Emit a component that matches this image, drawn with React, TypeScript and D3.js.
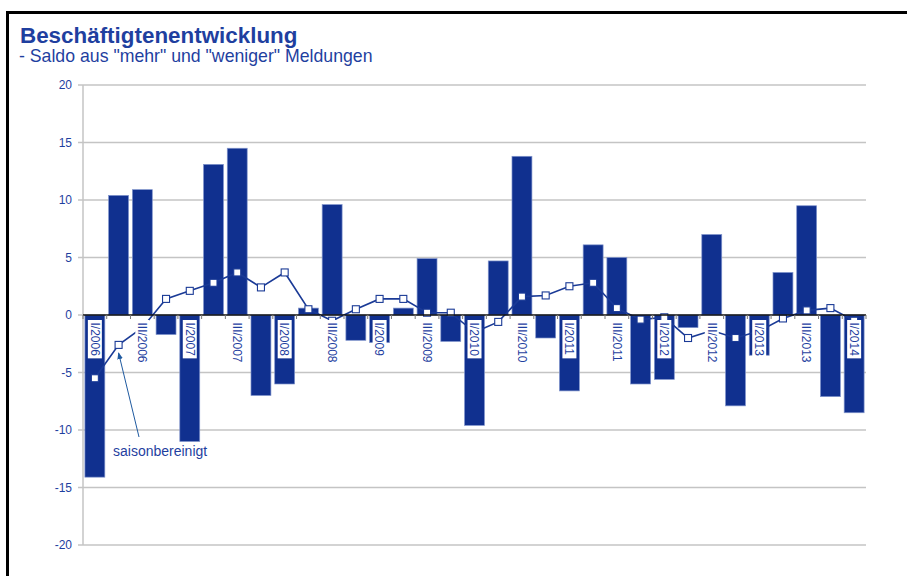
import React from "react";
import * as d3 from "d3";

const categories = [
  "I/2006", "II/2006", "III/2006", "IV/2006",
  "I/2007", "II/2007", "III/2007", "IV/2007",
  "I/2008", "II/2008", "III/2008", "IV/2008",
  "I/2009", "II/2009", "III/2009", "IV/2009",
  "I/2010", "II/2010", "III/2010", "IV/2010",
  "I/2011", "II/2011", "III/2011", "IV/2011",
  "I/2012", "II/2012", "III/2012", "IV/2012",
  "I/2013", "II/2013", "III/2013", "IV/2013",
  "I/2014",
];

const saldo = [
  -14.1, 10.4, 10.9, -1.7,
  -11.0, 13.1, 14.5, -7.0,
  -6.0, 0.6, 9.6, -2.2,
  -2.4, 0.6, 4.9, -2.3,
  -9.6, 4.7, 13.8, -2.0,
  -6.6, 6.1, 5.0, -6.0,
  -5.6, -1.1, 7.0, -7.9,
  -3.5, 3.7, 9.5, -7.1,
  -8.5,
];

const saisonbereinigt = [
  -5.5, -2.6, -1.1, 1.4,
  2.1, 2.8, 3.7, 2.4,
  3.7, 0.5, -0.5, 0.5,
  1.4, 1.4, 0.2, 0.2,
  -1.5, -0.6, 1.6, 1.7,
  2.5, 2.8, 0.6, -0.4,
  -0.2, -2.0, -1.35, -2.0,
  -1.4, -0.3, 0.4, 0.6,
  -0.5,
];

const yTicks = [20, 15, 10, 5, 0, -5, -10, -15, -20];
const labeledCategories = categories.filter((c) => c.startsWith("I/") || c.startsWith("III/"));

const title = "Beschäftigtenentwicklung";
const subtitle = "- Saldo aus \"mehr\" und \"weniger\" Meldungen";
const annotation = "saisonbereinigt";

const W = 907;
const H = 576;
const left = 83;
const right = 866;
const top = 85;
const bottom = 545;

const BAR = "#10308f";
const TXT = "#1f3f9f";
const FONT = "'Liberation Sans', Arial, sans-serif";

export default function App() {
  const x = d3
    .scaleBand<string>()
    .domain(categories)
    .range([left, right])
    .paddingInner(0.16)
    .paddingOuter(0.08);
  const y = d3.scaleLinear().domain([-20, 20]).range([bottom, top]);
  const step = (right - left) / categories.length;
  const cx = (c: string) => (x(c) as number) + x.bandwidth() / 2;

  const lineGen = d3
    .line<number>()
    .x((_, i) => cx(categories[i]))
    .y((d) => y(d));

  const boundaries = d3.range(categories.length + 1).map((i) => left + i * step);

  const p2x = cx(categories[1]);
  const p2y = y(saisonbereinigt[1]);

  const LF = 12;

  return (
    <svg
      width={W}
      height={H}
      style={{ position: "absolute", left: 0, top: 0, background: "#fff" }}
      fontFamily={FONT}
    >
      <defs>
        <marker id="arr" viewBox="0 0 10 10" refX="9" refY="5" markerWidth="7" markerHeight="7" orient="auto">
          <path d="M0,1 L10,5 L0,9 z" fill="#1f5aa0" />
        </marker>
      </defs>
      {/* frame */}
      <path d={`M7.5,${H} L7.5,12.5 L${W},12.5`} fill="none" stroke="#000" strokeWidth={3} />

      {/* title */}
      <text x={20} y={43} fill={TXT} fontSize={22.4} fontWeight="bold">
        {title}
      </text>
      <text x={19} y={62} fill={TXT} fontSize={17.7}>
        {subtitle}
      </text>

      {/* gridlines */}
      {yTicks.map((t) => (
        <g key={t}>
          {t !== 0 && (
            <line x1={left - 5} x2={right} y1={y(t)} y2={y(t)} stroke="#c4c4c4" strokeWidth={1.5} />
          )}
          {t === 0 && <line x1={left - 5} x2={left} y1={y(t)} y2={y(t)} stroke="#c4c4c4" strokeWidth={1.5} />}
          <text x={72} y={y(t)} dy="0.35em" textAnchor="end" fontSize={12} fill={TXT}>
            {t}
          </text>
        </g>
      ))}
      <line x1={left} x2={left} y1={top} y2={bottom} stroke="#c4c4c4" strokeWidth={1.5} />

      {/* bars */}
      {categories.map((c, i) => {
        const v = saldo[i];
        const y0 = y(Math.max(0, v));
        const h = Math.abs(y(v) - y(0));
        return (
          <rect
            key={c}
            x={x(c)}
            y={y0}
            width={x.bandwidth()}
            height={h}
            fill={BAR}
            stroke="#8094cc"
            strokeWidth={0.7}
          />
        );
      })}

      {/* line */}
      <path d={lineGen(saisonbereinigt) || ""} fill="none" stroke="#1a3a96" strokeWidth={1.6} />
      {saisonbereinigt.map((v, i) => (
        <rect
          key={i}
          x={cx(categories[i]) - 3.5}
          y={y(v) - 3.5}
          width={7}
          height={7}
          fill="#fff"
          stroke="#1a3a96"
          strokeWidth={1.1}
        />
      ))}

      {/* zero axis */}
      <line x1={left} x2={right} y1={y(0)} y2={y(0)} stroke="#111" strokeWidth={1.5} />
      {boundaries.map((b, i) => (
        <line key={i} x1={b} x2={b} y1={y(0)} y2={y(0) + 4} stroke="#777" strokeWidth={1} />
      ))}

      {/* category labels */}
      {labeledCategories.map((c) => {
        const nI = c.match(/I/g)?.length || 0;
        const len = 4 * LF * 0.556 + (nI + 1) * LF * 0.278;
        return (
          <g key={c} transform={`translate(${cx(c)},${y(0) + 5})`}>
            <rect x={-7} y={0} width={14} height={len + 5} fill="#fff" />
            <text transform="rotate(90)" x={2.5} y={0} dy="0.35em" fontSize={LF} fill={TXT}>
              {c}
            </text>
          </g>
        );
      })}

      {/* annotation */}
      <line
        x1={139}
        y1={437}
        x2={p2x}
        y2={p2y + 8}
        stroke="#1f5aa0"
        strokeWidth={1}
        markerEnd="url(#arr)"
      />
      <text x={113} y={456} fontSize={14} fill={TXT}>
        {annotation}
      </text>
    </svg>
  );
}
